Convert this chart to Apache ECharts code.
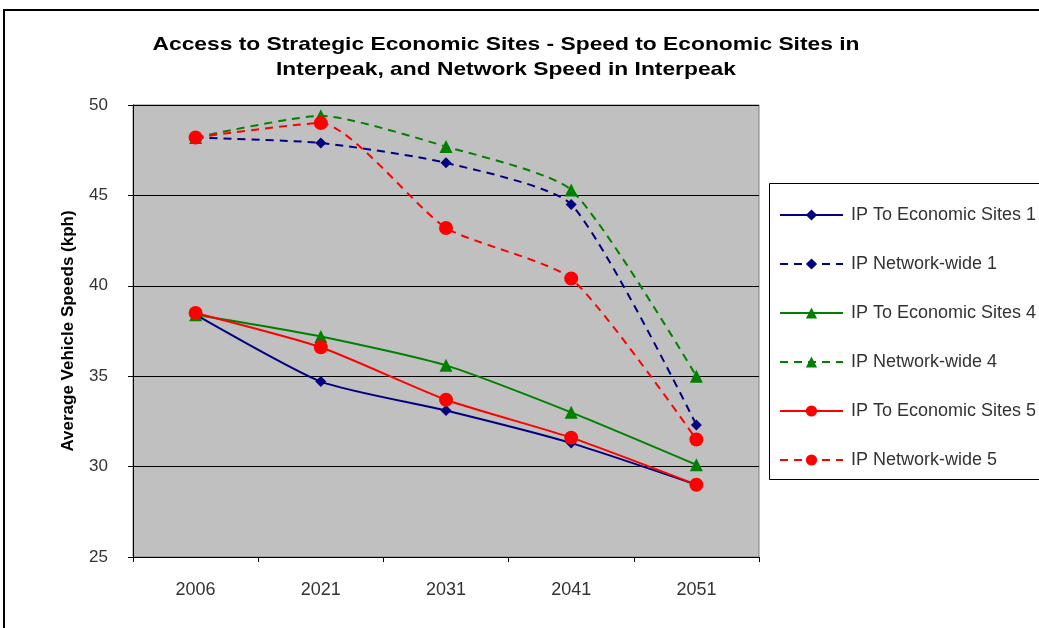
<!DOCTYPE html>
<html><head><meta charset="utf-8">
<script src="https://cdn.jsdelivr.net/npm/echarts@6/dist/echarts.min.js"></script>
<style>html,body{margin:0;padding:0;background:#fff}#c{width:1039px;height:628px}</style>
</head><body><div id="c"></div>
<script>
const categories = ['2006', '2021', '2031', '2041', '2051'];
const seriesNames = ['IP To Economic Sites 1', 'IP Network-wide 1', 'IP To Economic Sites 4', 'IP Network-wide 4', 'IP To Economic Sites 5', 'IP Network-wide 5'];
const sites1 = [38.4, 34.7, 33.1, 31.3, 29.0];
const network1 = [48.2, 47.9, 46.8, 44.5, 32.3];
const sites4 = [38.4, 37.2, 35.6, 33.0, 30.1];
const network4 = [48.2, 49.4, 47.7, 45.3, 35.0];
const sites5 = [38.5, 36.6, 33.7, 31.6, 29.0];
const network5 = [48.2, 49.0, 43.2, 40.4, 31.5];
const yTicks = { min: 25, max: 50, interval: 5 };
const titleLines = ['Access to Strategic Economic Sites - Speed to Economic Sites in', 'Interpeak, and Network Speed in Interpeak'];

const navy = '#000080', green = '#008000', red = '#FF0000';
const font = 'Liberation Sans, Arial';
function mk(name, data, color, dashed, symbol, size) {
  return {
    name, type: 'line', data, symbol, symbolSize: size, smooth: 0.2,
    lineStyle: { color, width: 2, type: dashed ? [8, 6] : 'solid' },
    itemStyle: { color },
    emphasis: { disabled: true }, animation: false
  };
}
const chart = echarts.init(document.getElementById('c'), null, { renderer: 'canvas' });
chart.setOption({
  animation: false,
  graphic: [
    { type: 'rect', shape: { x: 4, y: 10, width: 1200, height: 800 }, style: { fill: 'none', stroke: '#000', lineWidth: 2 }, z: 100 },
    { type: 'rect', shape: { x: 769.5, y: 183.5, width: 400, height: 296 }, style: { fill: '#fff', stroke: '#000', lineWidth: 1 }, z: 0 },
    { type: 'text', x: 506, y: 45, scaleX: 1.2, originX: 0, originY: 0,
      style: { text: titleLines[0], font: 'bold 19px ' + font, fill: '#000', align: 'center', verticalAlign: 'middle' } },
    { type: 'text', x: 506, y: 70, scaleX: 1.2, originX: 0, originY: 0,
      style: { text: titleLines[1], font: 'bold 19px ' + font, fill: '#000', align: 'center', verticalAlign: 'middle' } }
  ],
  legend: {
    orient: 'vertical', left: 774, top: 201,
    itemWidth: 63, itemHeight: 14, itemGap: 31,
    textStyle: { fontFamily: font, fontSize: 18, color: '#333', padding: [0, 0, 0, 3] },
    data: seriesNames, z: 5
  },
  grid: { left: 133, top: 105, right: 280, bottom: 71, containLabel: false,
    show: true, backgroundColor: '#C0C0C0', borderColor: '#808080', borderWidth: 1 },
  xAxis: {
    type: 'category', data: categories, boundaryGap: true,
    axisLine: { lineStyle: { color: '#000', width: 1 } },
    axisTick: { show: true, length: 5, lineStyle: { color: '#000' } },
    axisLabel: { fontFamily: font, fontSize: 18, color: '#333', margin: 24 },
    splitLine: { show: false }
  },
  yAxis: {
    type: 'value', min: yTicks.min, max: yTicks.max, interval: yTicks.interval,
    name: 'Average Vehicle Speeds (kph)', nameLocation: 'middle', nameGap: 56,
    nameTextStyle: { fontFamily: font, fontWeight: 'bold', fontSize: 17, color: '#000' },
    axisLine: { show: true, lineStyle: { color: '#000', width: 1 } },
    axisTick: { show: true, length: 5, lineStyle: { color: '#000' } },
    axisLabel: { fontFamily: font, fontSize: 17, color: '#333', margin: 25 },
    splitLine: { show: true, lineStyle: { color: '#000', width: 1 } }
  },
  series: [
    mk(seriesNames[0], sites1, navy, false, 'diamond', 11),
    mk(seriesNames[1], network1, navy, true, 'diamond', 11),
    mk(seriesNames[2], sites4, green, false, 'triangle', 13),
    mk(seriesNames[3], network4, green, true, 'triangle', 13),
    mk(seriesNames[4], sites5, red, false, 'circle', 14),
    mk(seriesNames[5], network5, red, true, 'circle', 14)
  ]
});
</script></body></html>
